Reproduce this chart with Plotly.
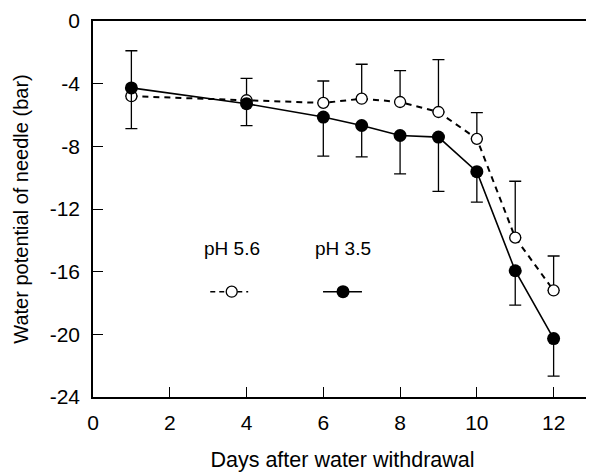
import plotly.graph_objects as go

days = [1, 4, 6, 7, 8, 9, 10, 11, 12]
ph56 = [-4.8, -5.06, -5.23, -4.96, -5.17, -5.81, -7.52, -13.83, -17.2]
ph56_err_up = [2.9, 1.4, 1.4, 2.2, 2.0, 3.35, 1.67, 3.6, 2.2]
ph35 = [-4.27, -5.28, -6.13, -6.67, -7.31, -7.41, -9.62, -15.94, -20.27]
ph35_err_down = [2.6, 1.4, 2.5, 2.0, 2.45, 3.46, 1.94, 2.2, 2.4]
zeros = [0] * len(days)

x_ticks = [0, 2, 4, 6, 8, 10, 12]
y_ticks = [0, -4, -8, -12, -16, -20, -24]

FONT = "Liberation Sans, Arial, sans-serif"

fig = go.Figure()
fig.add_trace(go.Scatter(
    x=days, y=ph56, mode="lines+markers", name="pH 5.6",
    line=dict(color="black", width=2, dash="6px,5px"),
    marker=dict(symbol="circle", size=11, color="white",
                line=dict(color="black", width=1.3)),
    error_y=dict(type="data", symmetric=False, array=ph56_err_up,
                 arrayminus=zeros, color="black", thickness=1.3, width=6),
    showlegend=False, cliponaxis=False))
fig.add_trace(go.Scatter(
    x=days, y=ph35, mode="lines+markers", name="pH 3.5",
    line=dict(color="black", width=1.6),
    marker=dict(symbol="circle", size=13, color="black"),
    error_y=dict(type="data", symmetric=False, array=zeros,
                 arrayminus=ph35_err_down, color="black", thickness=1.3, width=6),
    showlegend=False, cliponaxis=False))

# Legend keys drawn on an overlay axis (paper-like 0..1 space)
fig.add_trace(go.Scatter(
    x=[0.235, 0.278, 0.311], y=[0.28, 0.28, 0.28], xaxis="x2", yaxis="y2",
    mode="lines", line=dict(color="black", width=1.5, dash="5px,4px"),
    showlegend=False, hoverinfo="skip"))
fig.add_trace(go.Scatter(
    x=[0.278], y=[0.28], xaxis="x2", yaxis="y2", mode="markers",
    marker=dict(symbol="circle", size=11, color="white",
                line=dict(color="black", width=1.3)),
    showlegend=False, hoverinfo="skip"))
fig.add_trace(go.Scatter(
    x=[0.461, 0.539], y=[0.28, 0.28], xaxis="x2", yaxis="y2", mode="lines",
    line=dict(color="black", width=1.6), showlegend=False, hoverinfo="skip"))
fig.add_trace(go.Scatter(
    x=[0.501], y=[0.28], xaxis="x2", yaxis="y2", mode="markers",
    marker=dict(symbol="circle", size=13, color="black"),
    showlegend=False, hoverinfo="skip"))

fig.add_annotation(x=0.2776, y=0.396, xref="paper", yref="paper", text="pH 5.6",
                   xanchor="center", yanchor="middle",
                   showarrow=False, font=dict(family=FONT, size=19, color="black"))
fig.add_annotation(x=0.5, y=0.396, xref="paper", yref="paper", text="pH 3.5",
                   xanchor="center", yanchor="middle",
                   showarrow=False, font=dict(family=FONT, size=19, color="black"))

axis_common = dict(showline=True, linecolor="black", linewidth=1.5, mirror=True,
                   ticks="inside", tickcolor="black", tickwidth=1.2, ticklen=10,
                   showgrid=False, zeroline=False, automargin=False,
                   tickfont=dict(family=FONT, size=21, color="black"))

# page body has an 8px default margin, so the figure is 8px smaller
fig.update_layout(
    width=586, height=464,
    margin=dict(l=85, r=2, t=13, b=75),
    plot_bgcolor="white", paper_bgcolor="white",
    font=dict(family=FONT, color="black"),
    xaxis=dict(range=[0, 13], tickvals=x_ticks, ticktext=[str(v) for v in x_ticks],
               ticklabelstandoff=6,
               title=dict(text="Days after water withdrawal",
                          font=dict(family=FONT, size=21.5), standoff=20),
               **axis_common),
    yaxis=dict(range=[-24, 0], tickvals=y_ticks, ticktext=[str(v) for v in y_ticks],
               ticklabelstandoff=7,
               title=dict(text="Water potential of needle (bar)",
                          font=dict(family=FONT, size=20), standoff=16),
               **axis_common),
    xaxis2=dict(range=[0, 1], overlaying="x", visible=False, fixedrange=True),
    yaxis2=dict(range=[0, 1], overlaying="y", visible=False, fixedrange=True),
)

fig.write_html("out.html")
